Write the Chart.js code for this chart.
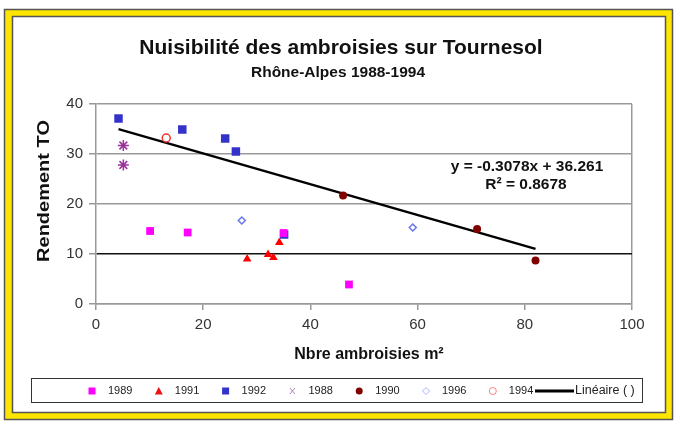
<!DOCTYPE html>
<html>
<head>
<meta charset="utf-8">
<script src="https://cdn.jsdelivr.net/npm/chart.js@4/dist/chart.umd.min.js"></script>
<style>
  html, body { margin: 0; padding: 0; background: #fff; }
</style>
</head>
<body>
<canvas id="chart" width="674" height="422"></canvas>
<script>
// values
var x1989 = [10.1, 17.1, 35.0, 47.2];
var y1989 = [14.6, 14.3, 14.2, 3.9];
var x1991 = [28.2, 32.1, 33.1, 34.2];
var y1991 = [9.0, 9.9, 9.3, 12.3];
var x1992 = [4.2, 16.1, 24.1, 26.1, 35.1];
var y1992 = [37.1, 34.9, 33.1, 30.5, 13.9];
var x1988 = [5.1, 5.1];
var y1988 = [31.7, 27.8];
var x1990 = [46.1, 71.1, 82.0];
var y1990 = [21.7, 15.0, 8.7];
var x1996 = [27.2, 59.1];
var y1996 = [16.7, 15.3];
var x1994 = [13.1];
var y1994 = [33.2];
var xTrend = [4.2, 82.0];
var yTrend = [34.97, 11.02];

var xTicks = [0, 20, 40, 60, 80, 100];
var yTicks = [0, 10, 20, 30, 40];

var titleText = "Nuisibilité des ambroisies sur Tournesol";
var subtitleText = "Rhône-Alpes 1988-1994";
var eqText = "y = -0.3078x + 36.261";
var r2Text = "R\u00b2 = 0.8678";
var yTitle = "Rendement TO";
var xTitle = "Nbre ambroisies m\u00b2";

function pts(xs, ys) {
  var out = [];
  for (var i = 0; i < xs.length; i++) out.push({ x: xs[i], y: ys[i] });
  return out;
}

var FONT = "'Liberation Sans', Arial, sans-serif";

var legendItems = [
  { label: "1989", style: "rect", color: "#ff00ff", fill: true },
  { label: "1991", style: "triangle", color: "#ee1111", fill: true },
  { label: "1992", style: "rect", color: "#3333cc", fill: true },
  { label: "1988", style: "star", color: "#b080c0", fill: false },
  { label: "1990", style: "circle", color: "#800000", fill: true },
  { label: "1996", style: "diamond", color: "#aab4ff", fill: false },
  { label: "1994", style: "circle", color: "#ff8080", fill: false },
  { label: "Linéaire ( )", style: "line", color: "#000000", fill: false }
];

function drawMarker(c, it, x, y) {
  c.save();
  c.fillStyle = it.color;
  c.strokeStyle = it.color;
  c.lineWidth = 1;
  c.beginPath();
  if (it.style === "rect") {
    c.fillRect(x - 3.5, y - 3.5, 7, 7);
  } else if (it.style === "triangle") {
    c.moveTo(x, y - 4); c.lineTo(x + 4, y + 3.5); c.lineTo(x - 4, y + 3.5); c.closePath(); c.fill();
  } else if (it.style === "star") {
    c.moveTo(x - 2.5, y - 3); c.lineTo(x + 2.5, y + 3);
    c.moveTo(x + 2.5, y - 3); c.lineTo(x - 2.5, y + 3);
    c.stroke();
  } else if (it.style === "circle") {
    c.arc(x, y, 3.5, 0, Math.PI * 2);
    if (it.fill) c.fill(); else c.stroke();
  } else if (it.style === "diamond") {
    c.moveTo(x, y - 3.5); c.lineTo(x + 3.5, y); c.lineTo(x, y + 3.5); c.lineTo(x - 3.5, y); c.closePath(); c.stroke();
  }
  c.restore();
}

var framePlugin = {
  id: "frame",
  beforeDraw: function (chart) {
    var c = chart.ctx;
    c.save();
    c.fillStyle = "#ffffff";
    c.fillRect(0, 0, chart.width, chart.height);
    // yellow frame
    c.fillStyle = "#ffe600";
    c.fillRect(4, 9, 669, 411);
    c.fillStyle = "#ffffff";
    c.fillRect(12, 16, 654, 397);
    c.strokeStyle = "#555555";
    c.lineWidth = 1.5;
    c.strokeRect(4.5, 9.5, 668, 410);
    c.strokeRect(12.5, 16.5, 653, 396);
    c.restore();
  },
  afterDraw: function (chart) {
    var c = chart.ctx;
    c.save();
    c.fillStyle = "#111111";
    c.textAlign = "center";
    c.textBaseline = "middle";
    c.font = "bold 21px " + FONT;
    c.fillText(titleText, 341, 48);
    c.font = "bold 15.5px " + FONT;
    c.fillText(subtitleText, 338, 73);
    c.font = "bold 15.5px " + FONT;
    c.fillText(eqText, 527, 167);
    c.fillText(r2Text, 526, 185);

    // axis titles
    c.font = "bold 16px " + FONT;
    c.fillText(xTitle, 369, 355);
    c.save();
    c.translate(45, 191);
    c.rotate(-Math.PI / 2);
    c.scale(1.25, 1);
    c.fillText(yTitle, 0, 0);
    c.restore();

    // legend box
    c.strokeStyle = "#333333";
    c.lineWidth = 1;
    c.strokeRect(31.5, 378.5, 611, 24);
    c.font = "11px " + FONT;
    c.textAlign = "left";
    c.fillStyle = "#222222";
    var x = 92, y = 391;
    legendItems.forEach(function (it) {
      if (it.style === "line") {
        c.strokeStyle = "#000";
        c.lineWidth = 3;
        c.beginPath();
        c.moveTo(535, y); c.lineTo(574, y);
        c.stroke();
        c.font = "12.5px " + FONT;
        c.fillText(it.label, 575, y);
      } else {
        drawMarker(c, it, x, y);
        c.fillText(it.label, x + 16, y);
        x += 66.8;
      }
    });
    c.restore();
  }
};

var ctx = document.getElementById("chart").getContext("2d");
var myChart = new Chart(ctx, {
  type: "scatter",
  data: {
    datasets: [
      { label: "1989", data: pts(x1989, y1989), pointStyle: "rect", pointRadius: 5.5,
        backgroundColor: "#ff00ff", borderColor: "#ff00ff", borderWidth: 0 },
      { label: "1991", data: pts(x1991, y1991), pointStyle: "triangle", pointRadius: 5,
        backgroundColor: "#ff0000", borderColor: "#ff0000", borderWidth: 0 },
      { label: "1992", data: pts(x1992, y1992), pointStyle: "rect", pointRadius: 6,
        backgroundColor: "#3333cc", borderColor: "#3333cc", borderWidth: 0 },
      { label: "1988", data: pts(x1988, y1988), pointStyle: "star", pointRadius: 5.5,
        backgroundColor: "#993399", borderColor: "#993399", borderWidth: 1.5 },
      { label: "1990", data: pts(x1990, y1990), pointStyle: "circle", pointRadius: 4,
        backgroundColor: "#800000", borderColor: "#800000", borderWidth: 0 },
      { label: "1996", data: pts(x1996, y1996), pointStyle: "rectRot", pointRadius: 3.5,
        backgroundColor: "#ffffff", borderColor: "#6677ee", borderWidth: 1.5 },
      { label: "1994", data: pts(x1994, y1994), pointStyle: "circle", pointRadius: 4,
        backgroundColor: "#ffffff", borderColor: "#ee3333", borderWidth: 1.5 },
      { label: "Linéaire ( )", type: "line", data: pts(xTrend, yTrend), pointRadius: 0,
        borderColor: "#000000", borderWidth: 2.5, showLine: true, fill: false }
    ]
  },
  options: {
    responsive: false,
    animation: false,
    layout: { padding: { top: 104, left: 30, right: 42, bottom: 48 } },
    plugins: {
      legend: { display: false },
      tooltip: { enabled: false }
    },
    scales: {
      x: {
        type: "linear", min: 0, max: 100,
        afterBuildTicks: function (s) { s.ticks = xTicks.map(function (v) { return { value: v }; }); },
        afterFit: function (s) { s.height = 70; },
        ticks: { color: "#333", font: { family: FONT, size: 15 }, padding: 6 },
        grid: {
          color: function (c) { return c.tick && c.tick.value === 100 ? "#999999" : "rgba(0,0,0,0)"; },
          tickColor: "#999999", tickLength: 6, lineWidth: 1.5
        },
        border: { color: "#999999", width: 1.5 },
        title: { display: false }
      },
      y: {
        type: "linear", min: 0, max: 40,
        afterBuildTicks: function (s) { s.ticks = yTicks.map(function (v) { return { value: v }; }); },
        afterFit: function (s) { s.width = 66; },
        ticks: { color: "#333", font: { family: FONT, size: 15 }, padding: 6 },
        grid: {
          color: function (c) { return c.tick && c.tick.value === 10 ? "#111111" : "#999999"; },
          tickColor: "#999999", tickLength: 7, lineWidth: 1.5
        },
        border: { color: "#999999", width: 1.5 },
        title: { display: false }
      }
    }
  },
  plugins: [framePlugin]
});
</script>
</body>
</html>
